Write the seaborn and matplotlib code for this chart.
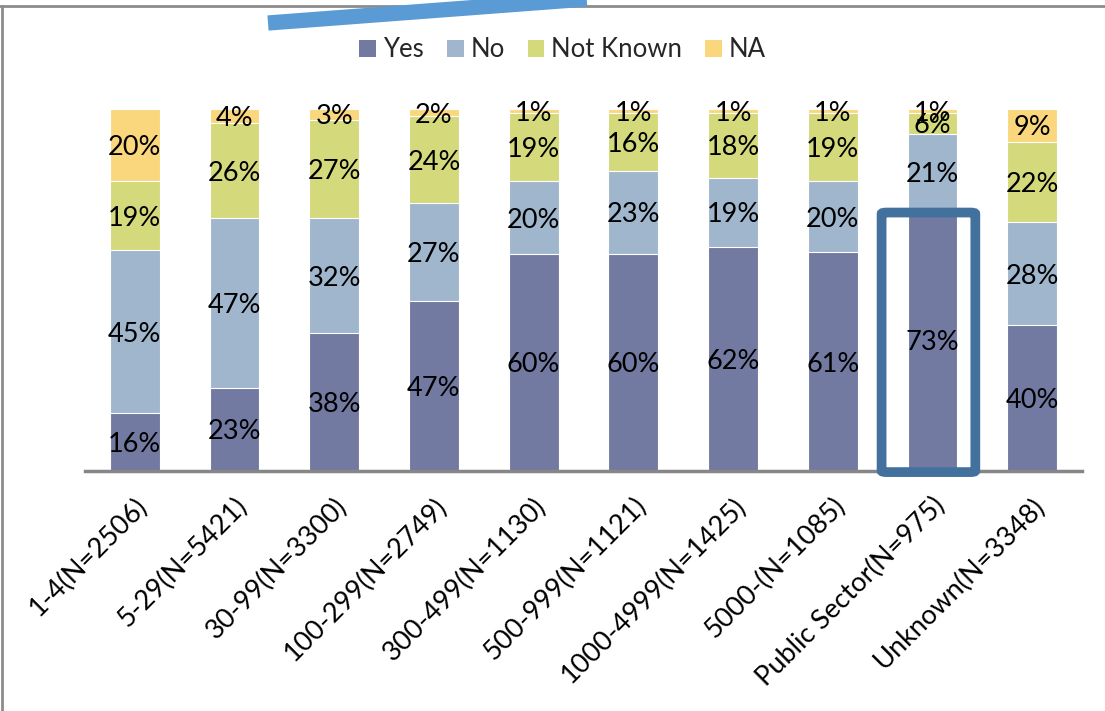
import numpy as np
import pandas as pd
import matplotlib
matplotlib.use("Agg")
import matplotlib.pyplot as plt
from matplotlib.lines import Line2D
from matplotlib.patches import FancyBboxPatch, Patch
import seaborn as sns

categories = ["1-4(N=2506)", "5-29(N=5421)", "30-99(N=3300)", "100-299(N=2749)",
              "300-499(N=1130)", "500-999(N=1121)", "1000-4999(N=1425)",
              "5000-(N=1085)", "Public Sector(N=975)", "Unknown(N=3348)"]
yes_pct = [16, 23, 38, 47, 60, 60, 62, 61, 73, 40]
no_pct = [45, 47, 32, 27, 20, 23, 19, 20, 21, 28]
not_known_pct = [19, 26, 27, 24, 19, 16, 18, 19, 6, 22]
na_pct = [20, 4, 3, 2, 1, 1, 1, 1, 1, 9]

series_names = ["Yes", "No", "Not Known", "NA"]
colors = ["#727AA2", "#A0B6CC", "#D4D97C", "#FAD77D"]

sns.set_theme(style="white")
plt.rcParams["font.family"] = ["Lato", "DejaVu Sans"]

fig = plt.figure(figsize=(11.05, 7.11), dpi=100)
ax = fig.add_axes([85 / 1105, 1 - 471 / 711, 997 / 1105, 362 / 711])

raw = np.array([yes_pct, no_pct, not_known_pct, na_pct], dtype=float)
shares = raw / raw.sum(axis=0) * 100  # 100% stacked
cum = np.cumsum(shares, axis=0)

# Draw from the tallest cumulative layer down so each segment shows through
for i in range(3, -1, -1):
    df = pd.DataFrame({"cat": categories, "val": cum[i]})
    sns.barplot(data=df, x="cat", y="val", color=colors[i], width=0.5,
                edgecolor="white", linewidth=0.8, saturation=1, ax=ax)

# Segment labels
for i in range(4):
    lower = cum[i] - shares[i]
    for j in range(len(categories)):
        ax.text(j, lower[j] + shares[i][j] / 2, f"{int(raw[i][j])}%",
                ha="center", va="center_baseline", fontsize=19.5, color="black")

ax.set_xlim(-0.5, len(categories) - 0.5)
ax.set_ylim(0, 100)
ax.set_xlabel("")
ax.set_ylabel("")
ax.set_yticks([])
for s in ["top", "right", "left"]:
    ax.spines[s].set_visible(False)
ax.spines["bottom"].set_color("#868686")
ax.spines["bottom"].set_linewidth(2.5)
ax.tick_params(axis="x", length=0, pad=16)
ax.set_xticks(range(len(categories)))
ax.set_xticklabels(categories, rotation=45, ha="right", rotation_mode="anchor",
                   fontsize=19.5, color="black")

# Highlight box around the Public Sector bar
box = FancyBboxPatch((7.49, -0.3), 0.94, 71.7,
                     boxstyle="round,pad=0,rounding_size=0.05",
                     fill=False, edgecolor="#41719C", linewidth=7,
                     clip_on=False, zorder=5, mutation_aspect=8)
ax.add_patch(box)

# Legend
handles = [Patch(facecolor=c, edgecolor="none") for c in colors]
fig.legend(handles, series_names, loc="center", bbox_to_anchor=(0.509, 0.93),
           ncol=4, frameon=False, fontsize=18.5, handlelength=0.66,
           handleheight=0.66, handletextpad=0.25, columnspacing=0.9)

# Frame lines and decorative stroke
fig.add_artist(Line2D([0, 1], [1 - 5.5 / 711] * 2, transform=fig.transFigure,
                      color="#8C8C8C", linewidth=2))
fig.add_artist(Line2D([1.5 / 1105] * 2, [0, 1 - 5.5 / 711], transform=fig.transFigure,
                      color="#8C8C8C", linewidth=2))
fig.add_artist(Line2D([268 / 1105, 600 / 1105], [1 - 23 / 711, 1 + 2 / 711],
                      transform=fig.transFigure, color="#5B9BD5", linewidth=11,
                      solid_capstyle="butt"))

fig.savefig("out.png", dpi=100)
